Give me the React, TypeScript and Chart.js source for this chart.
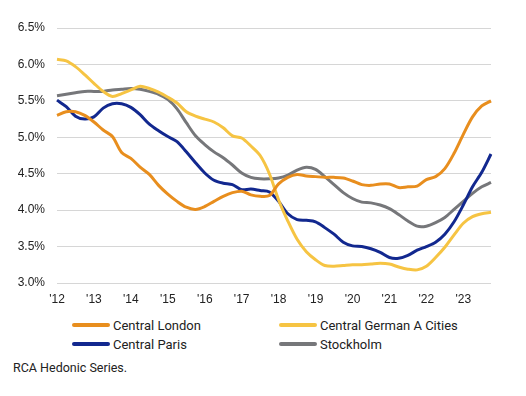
import React, { useEffect, useRef } from "react";
import { Chart, registerables } from "chart.js";

Chart.register(...registerables);

const quarters: string[] = [];
for (let y = 2012; y <= 2023; y++) for (let q = 1; q <= 4; q++) quarters.push(`${y} Q${q}`);

const centralLondon = [
  5.30, 5.35, 5.35, 5.30, 5.21, 5.10, 5.01, 4.79, 4.71, 4.59, 4.49, 4.34,
  4.22, 4.12, 4.04, 4.01, 4.05, 4.12, 4.19, 4.24, 4.26, 4.21, 4.19, 4.20,
  4.36, 4.45, 4.49, 4.47, 4.46, 4.45, 4.45, 4.44, 4.40, 4.35, 4.34, 4.36,
  4.36, 4.31, 4.32, 4.33, 4.42, 4.46, 4.57, 4.78, 5.04, 5.28, 5.43, 5.50,
];
const centralGerman = [
  6.07, 6.05, 5.97, 5.86, 5.74, 5.63, 5.56, 5.60, 5.65, 5.70, 5.67, 5.62,
  5.55, 5.47, 5.35, 5.29, 5.25, 5.21, 5.13, 5.02, 4.99, 4.88, 4.75, 4.50,
  4.14, 3.85, 3.60, 3.43, 3.32, 3.24, 3.23, 3.24, 3.25, 3.25, 3.26, 3.27,
  3.26, 3.22, 3.19, 3.18, 3.23, 3.35, 3.49, 3.66, 3.82, 3.91, 3.95, 3.97,
];
const centralParis = [
  5.51, 5.42, 5.29, 5.25, 5.28, 5.40, 5.46, 5.46, 5.41, 5.31, 5.18, 5.09,
  5.01, 4.94, 4.80, 4.65, 4.51, 4.41, 4.37, 4.35, 4.28, 4.29, 4.27, 4.25,
  4.12, 3.95, 3.87, 3.86, 3.84, 3.76, 3.67, 3.56, 3.51, 3.50, 3.47, 3.42,
  3.35, 3.34, 3.38, 3.45, 3.50, 3.56, 3.67, 3.84, 4.07, 4.32, 4.52, 4.77,
];
const stockholm = [
  5.57, 5.59, 5.61, 5.63, 5.63, 5.63, 5.65, 5.66, 5.67, 5.66, 5.63, 5.59,
  5.52, 5.39, 5.20, 5.02, 4.90, 4.80, 4.72, 4.62, 4.51, 4.45, 4.43, 4.43,
  4.44, 4.48, 4.55, 4.59, 4.56, 4.46, 4.35, 4.24, 4.16, 4.11, 4.10, 4.07,
  4.02, 3.94, 3.85, 3.78, 3.78, 3.83, 3.90, 4.01, 4.12, 4.23, 4.32, 4.38,
];

const seriesNames = ["Central London", "Central German A Cities", "Central Paris", "Stockholm"];
const seriesColors = ["#E88E1E", "#F6C443", "#12288F", "#76777A"];
const seriesData = [centralLondon, centralGerman, centralParis, stockholm];
const yTicks = [3.0, 3.5, 4.0, 4.5, 5.0, 5.5, 6.0, 6.5];
const caption = "RCA Hedonic Series.";

const tickFont = "'Liberation Sans', Arial, sans-serif";
const legendFont = "Roboto, 'Liberation Sans', sans-serif";

export default function App() {
  const ref = useRef<HTMLCanvasElement>(null);
  useEffect(() => {
    if (!ref.current) return;
    const chart = new Chart(ref.current, {
      type: "line",
      data: {
        labels: quarters,
        datasets: seriesData.map((d, i) => ({
          label: seriesNames[i],
          data: d,
          borderColor: seriesColors[i],
          backgroundColor: seriesColors[i],
          borderWidth: 3,
          pointRadius: 0,
          tension: 0.3,
          fill: false,
        })),
      },
      options: {
        animation: false,
        responsive: false,
        maintainAspectRatio: false,
        layout: { padding: { left: 0, right: 35, top: 28, bottom: 0 } },
        plugins: { legend: { display: false }, tooltip: { enabled: false } },
        scales: {
          x: {
            type: "category",
            offset: false,
            grid: { display: false, drawTicks: false },
            border: { display: false },
            afterFit: (s: any) => { s.height = 27; },
            ticks: {
              autoSkip: false,
              maxRotation: 0,
              padding: 9,
              color: "#222",
              font: { family: tickFont, size: 12 },
              callback: (_v: any, i: number) =>
                i % 4 === 0 ? "'" + quarters[i].slice(2, 4) : "",
            },
          },
          y: {
            min: 3.0,
            max: 6.5,
            afterFit: (s: any) => { s.width = 57; },
            afterBuildTicks: (s: any) => { s.ticks = yTicks.map((v) => ({ value: v })); },
            grid: { color: "#d6d6d6", lineWidth: 1, drawTicks: false },
            border: { display: false },
            ticks: {
              padding: 12,
              color: "#222",
              font: { family: tickFont, size: 12 },
              callback: (v: any) => Number(v).toFixed(1) + "%",
            },
          },
        },
      },
    });
    return () => chart.destroy();
  }, []);

  const legendPos = [
    { left: 72, top: 325 },
    { left: 279, top: 325 },
    { left: 72, top: 344 },
    { left: 279, top: 344 },
  ];

  return (
    <div style={{ position: "absolute", left: 0, top: 0, width: 526, height: 396, background: "#fff" }}>
      <canvas ref={ref} width={526} height={310} style={{ position: "absolute", left: 0, top: 0 }} />
      {seriesNames.map((n, i) => (
        <div
          key={n}
          style={{
            position: "absolute",
            left: legendPos[i].left,
            top: legendPos[i].top - 10,
            height: 20,
            display: "flex",
            alignItems: "center",
            fontFamily: legendFont,
            fontSize: 13,
            color: "#222",
            whiteSpace: "nowrap",
          }}
        >
          <span style={{ display: "inline-block", width: 38, height: 4, borderRadius: 2, background: seriesColors[i], marginRight: 3 }} />
          <span>{n}</span>
        </div>
      ))}
      <div style={{ position: "absolute", left: 13, top: 360, fontFamily: legendFont, fontSize: 12.5, color: "#222", whiteSpace: "nowrap" }}>
        {caption}
      </div>
    </div>
  );
}
